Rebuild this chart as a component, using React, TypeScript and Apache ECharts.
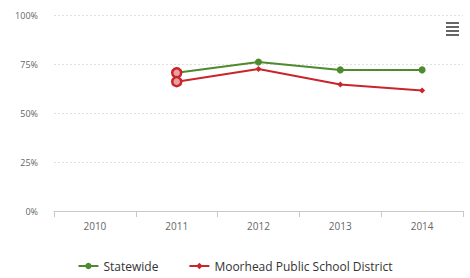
import React, { useEffect, useRef } from "react";
import * as echarts from "echarts";

const years = ["2010", "2011", "2012", "2013", "2014"];
const statewide: (number | null)[] = [null, 70.5, 76, 72, 72];
const moorhead: (number | null)[] = [null, 66, 72.5, 64.5, 61.5];
const yTicks = [0, 25, 50, 75, 100];

const GREEN = "#4e8a2e";
const RED = "#c9252c";

export default function App() {
  const ref = useRef<HTMLDivElement>(null);
  useEffect(() => {
    const chart = echarts.init(ref.current!, null, { renderer: "svg" });
    const mk = (arr: (number | null)[]) =>
      arr.map((v, i) =>
        i === 1 && v !== null
          ? { value: v, symbol: "circle", symbolSize: 9, itemStyle: { color: "#e8a0a0", borderColor: RED, borderWidth: 2.5 } }
          : v
      );
    chart.setOption({
      animation: false,
      grid: { left: 54, right: 7, top: 15, bottom: 67 },
      xAxis: {
        type: "category",
        data: years,
        boundaryGap: true,
        axisLine: { lineStyle: { color: "#c8c8c8" } },
        axisTick: { show: true, length: 6, lineStyle: { color: "#c8c8c8" } },
        axisLabel: { color: "#666", fontSize: 10, fontFamily: "Open Sans", margin: 10 },
      },
      yAxis: {
        type: "value",
        min: 0,
        max: 100,
        interval: 25,
        axisLine: { show: false },
        axisTick: { show: false },
        axisLabel: {
          color: "#666",
          fontSize: 9,
          fontFamily: "Open Sans",
          margin: 16,
          formatter: (v: number) => (yTicks.includes(v) ? v + "%" : ""),
        },
        splitLine: { lineStyle: { color: "#e0e0e0", type: [2, 2] } },
      },
      legend: {
        bottom: 1,
        left: "center",
        itemWidth: 20,
        itemHeight: 8,
        itemGap: 30,
        textStyle: { color: "#333", fontSize: 12, fontFamily: "Open Sans" },
        data: ["Statewide", "Moorhead Public School District"],
      },
      series: [
        {
          name: "Statewide",
          type: "line",
          data: mk(statewide),
          symbol: "circle",
          symbolSize: 7,
          lineStyle: { color: GREEN, width: 2 },
          itemStyle: { color: GREEN },
        },
        {
          name: "Moorhead Public School District",
          type: "line",
          data: mk(moorhead),
          symbol: "diamond",
          symbolSize: 6,
          lineStyle: { color: RED, width: 2 },
          itemStyle: { color: RED },
        },
      ],
      graphic: [
        { type: "rect", left: 446, top: 22, shape: { width: 13, height: 2 }, style: { fill: "#666" } },
        { type: "rect", left: 446, top: 26, shape: { width: 13, height: 2 }, style: { fill: "#666" } },
        { type: "rect", left: 446, top: 30, shape: { width: 13, height: 2 }, style: { fill: "#666" } },
        { type: "rect", left: 446, top: 34, shape: { width: 13, height: 2 }, style: { fill: "#666" } },
      ],
    });
    return () => chart.dispose();
  }, []);
  return <div ref={ref} style={{ width: 470, height: 278, position: "absolute", left: 0, top: 0 }} />;
}
